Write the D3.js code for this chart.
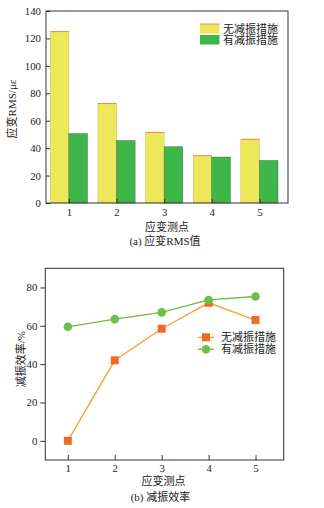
<!DOCTYPE html>
<html><head><meta charset="utf-8">
<script src="https://cdn.jsdelivr.net/npm/d3@7"></script>
<style>
body{margin:0;background:#fff;}
text{font-family:"Liberation Serif","Noto Sans CJK SC",serif;fill:#222;}
</style></head>
<body><svg id="c" width="324" height="508"></svg>
<script>
const points = [1, 2, 3, 4, 5];
const seriesNames = ["无减振措施", "有减振措施"];
const rmsWithout = [125, 72.5, 51.5, 34.5, 46.5];
const rmsWith = [50.5, 45.5, 41, 33.5, 31];
const effWithout = [0, 42, 58.5, 72, 63];
const effWith = [59.5, 63.5, 67, 73.5, 75.3];
const rmsTicks = [0, 20, 40, 60, 80, 100, 120, 140];
const effTicks = [0, 20, 40, 60, 80];

const svg = d3.select("#c");
const fs = 10.8;

// ---------- Chart (a) ----------
{
  const L = 46, R = 288, T = 11, B = 203;
  const x = d3.scaleLinear().domain([0.52, 5.6]).range([L, R]);
  const y = d3.scaleLinear().domain([0, 140]).range([B, T]);
  const bw = x(1.39) - x(1);
  const g = svg.append("g");
  g.selectAll(".b1").data(points).join("rect")
    .attr("x", d => x(d) - bw).attr("width", bw)
    .attr("y", (d, i) => y(rmsWithout[i])).attr("height", (d, i) => B - y(rmsWithout[i]))
    .attr("fill", "#ede85a").attr("stroke", "#b0ac50").attr("stroke-width", 0.4);
  g.selectAll(".b1t").data(points).join("line")
    .attr("x1", d => x(d) - bw).attr("x2", d => x(d))
    .attr("y1", (d, i) => y(rmsWithout[i])).attr("y2", (d, i) => y(rmsWithout[i]))
    .attr("stroke", "#f07a3a").attr("stroke-width", 0.8);
  g.selectAll(".b2").data(points).join("rect")
    .attr("x", d => x(d)).attr("width", bw)
    .attr("y", (d, i) => y(rmsWith[i])).attr("height", (d, i) => B - y(rmsWith[i]))
    .attr("fill", "#3fb64a").attr("stroke", "#4a6a48").attr("stroke-width", 0.5);
  g.append("rect").attr("x", L).attr("y", T).attr("width", R - L).attr("height", B - T)
    .attr("fill", "none").attr("stroke", "#333").attr("stroke-width", 1);
  const ya = g.append("g").attr("transform", `translate(${L},0)`)
    .call(d3.axisLeft(y).tickValues(rmsTicks).tickSizeInner(-4).tickSizeOuter(0).tickPadding(5));
  const xa = g.append("g").attr("transform", `translate(0,${B})`)
    .call(d3.axisBottom(x).tickValues(points).tickSizeInner(-4).tickSizeOuter(0).tickPadding(5).tickFormat(d3.format("d")));
  [ya, xa].forEach(a => {
    a.select(".domain").remove();
    a.selectAll("text").style("font-size", fs + "px").attr("fill", "#222");
    a.selectAll("line").attr("stroke", "#333");
  });
  g.append("text").attr("transform", `translate(16,${(T + B) / 2 + 2}) rotate(-90)`)
    .attr("text-anchor", "middle").style("font-size", "11px").text("应变RMS/με");
  g.append("text").attr("x", (L + R) / 2).attr("y", 231).attr("text-anchor", "middle")
    .style("font-size", "11px").text("应变测点");
  g.append("text").attr("x", (L + R) / 2 - 2).attr("y", 245).attr("text-anchor", "middle")
    .style("font-size", "11px").text("(a) 应变RMS值");
  const lg = g.append("g");
  const colors = ["#ede85a", "#3fb64a"];
  seriesNames.forEach((n, i) => {
    const yy = 24 + i * 11;
    lg.append("rect").attr("x", 200).attr("y", yy).attr("width", 19.5).attr("height", 9.5).attr("fill", colors[i]);
    if (i === 0) lg.append("line").attr("x1", 200).attr("x2", 219.5).attr("y1", yy).attr("y2", yy).attr("stroke", "#f07a3a").attr("stroke-width", 0.8);
    lg.append("text").attr("x", 223).attr("y", yy + 8.8).style("font-size", "11px").text(n);
  });
}

// ---------- Chart (b) ----------
{
  const L = 45.3, R = 283.7, T = 268.3, B = 460;
  const x = d3.scaleLinear().domain([0.52, 5.6]).range([L, R]);
  const y = d3.scaleLinear().domain([-10, 90]).range([B, T]);
  const g = svg.append("g");
  g.append("rect").attr("x", L).attr("y", T).attr("width", R - L).attr("height", B - T)
    .attr("fill", "none").attr("stroke", "#333").attr("stroke-width", 1);
  const ya = g.append("g").attr("transform", `translate(${L},0)`)
    .call(d3.axisLeft(y).tickValues(effTicks).tickSizeInner(5).tickSizeOuter(0).tickPadding(3));
  const xa = g.append("g").attr("transform", `translate(0,${B})`)
    .call(d3.axisBottom(x).tickValues(points).tickSizeInner(-5).tickSizeOuter(0).tickPadding(4).tickFormat(d3.format("d")));
  [ya, xa].forEach(a => {
    a.select(".domain").remove();
    a.selectAll("text").style("font-size", fs + "px").attr("fill", "#222");
    a.selectAll("line").attr("stroke", "#333");
  });
  const line = d3.line().x((d, i) => x(points[i])).y(d => y(d));
  const lineCols = ["#f5a030", "#6cbd3c"];
  const markCols = ["#f06a22", "#6cc048"];
  [effWithout, effWith].forEach((s, k) => {
    g.append("path").datum(s).attr("d", line).attr("fill", "none")
      .attr("stroke", lineCols[k]).attr("stroke-width", 1.3);
  });
  g.selectAll(".m1").data(effWithout).join("rect")
    .attr("x", (d, i) => x(points[i]) - 4).attr("y", d => y(d) - 4)
    .attr("width", 8).attr("height", 8).attr("fill", markCols[0]);
  g.selectAll(".m2").data(effWith).join("circle")
    .attr("cx", (d, i) => x(points[i])).attr("cy", d => y(d)).attr("r", 4.3).attr("fill", markCols[1]);
  seriesNames.forEach((n, i) => {
    const yy = 337.3 + i * 12;
    g.append("line").attr("x1", 198).attr("x2", 214).attr("y1", yy).attr("y2", yy)
      .attr("stroke", lineCols[i]).attr("stroke-width", 1.3);
    if (i === 0) g.append("rect").attr("x", 202).attr("y", yy - 4).attr("width", 8).attr("height", 8).attr("fill", markCols[0]);
    else g.append("circle").attr("cx", 206).attr("cy", yy).attr("r", 4.3).attr("fill", markCols[1]);
    g.append("text").attr("x", 221).attr("y", yy + 4).style("font-size", "11px").text(n);
  });
  g.append("text").attr("transform", `translate(25,${(T + B) / 2 - 5}) rotate(-90)`)
    .attr("text-anchor", "middle").style("font-size", "11px").text("减振效率/%");
  g.append("text").attr("x", (L + R) / 2 - 1).attr("y", 485).attr("text-anchor", "middle")
    .style("font-size", "11px").text("应变测点");
  g.append("text").attr("x", (L + R) / 2 - 4).attr("y", 501).attr("text-anchor", "middle")
    .style("font-size", "11px").text("(b) 减振效率");
}
</script></body></html>
